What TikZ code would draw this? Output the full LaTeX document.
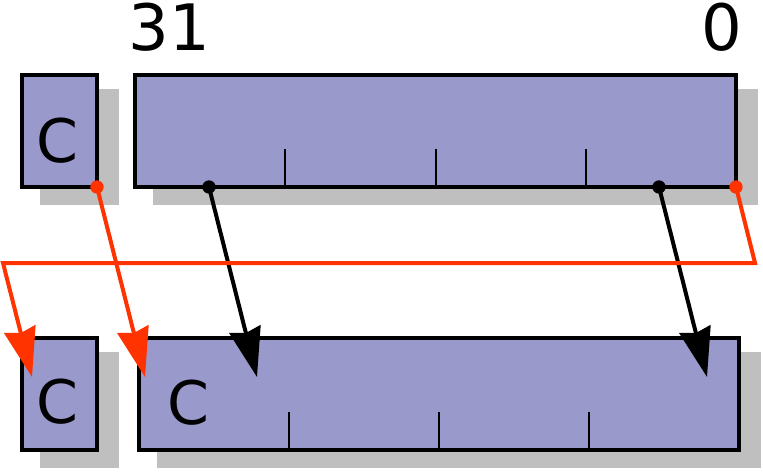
\documentclass[tikz,border=0pt]{standalone}
\usepackage{fontspec}
\setmainfont{DejaVu Sans}
\usetikzlibrary{arrows.meta,calc,backgrounds}
\definecolor{boxfill}{HTML}{9999CC}
\definecolor{shadowc}{HTML}{BFBFBF}
\definecolor{redc}{HTML}{FF3300}
\begin{document}
\begin{tikzpicture}[x=0.75pt,y=-0.75pt,
  regbox/.style={draw=black, line width=3.2pt, fill=boxfill, outer sep=0pt, inner sep=0pt},
  shadowbox/.style={fill=shadowc},
  tickline/.style={line width=1.5pt},
  conn/.style={line width=3pt, -{Stealth[length=37pt,width=24pt,inset=3pt]}},
  blackconn/.style={conn, draw=black},
  redconn/.style={conn, draw=redc},
  bigtxt/.style={inner sep=0pt, font=\fontsize{48}{48}\selectfont},
  ctxt/.style={inner sep=0pt, font=\fontsize{45}{45}\selectfont},
  dotb/.style={circle, fill=black, inner sep=0pt, minimum size=10pt},
  dotr/.style={circle, fill=redc, inner sep=0pt, minimum size=10pt}]
\useasboundingbox (0,0) rectangle (763,471);

% registers
\node[regbox, minimum width=56.25pt, minimum height=84pt] (cTop) at (59.5,131) {};
\node[regbox, minimum width=450.75pt, minimum height=84pt] (rTop) at (435.5,131) {};
\node[regbox, minimum width=56.25pt, minimum height=84pt] (cBot) at (59.5,394) {};
\node[regbox, minimum width=450pt, minimum height=84pt] (rBot) at (439,394) {};

% shadows
\begin{scope}[on background layer]
  \foreach \n in {cTop,rTop,cBot,rBot}
    \fill[shadowbox] ($(\n.north west)+(18,14)$) rectangle ($(\n.south east)+(22,18)$);
\end{scope}

% ticks
\foreach \f in {0.25,0.5,0.75}{
  \draw[tickline] ($(rTop.south west)!\f!(rTop.south east)$) -- ++(0,-38);
  \draw[tickline] ($(rBot.south west)!\f!(rBot.south east)$) -- ++(0,-38);
}

% labels
\node[bigtxt, anchor=base] (n31) at (169.5,50) {31};
\node[bigtxt, anchor=base] (n0) at (721.5,50) {0};
\node[ctxt, anchor=base] (c1) at (57,162) {C};
\node[ctxt, anchor=base] (c2) at (57.5,423) {C};
\node[ctxt, anchor=base] (c3) at (188,424) {C};

% connector points
\coordinate (pR1) at (cTop.south east);
\coordinate (pR2) at (rTop.south east);
\coordinate (pB1) at ($(rTop.south west)+(74,0)$);
\coordinate (pB2) at ($(rTop.south east)+(-77,0)$);
\coordinate (tB1) at ($(rBot.north west)+(118,39)$);
\coordinate (tB2) at ($(rBot.north west)+(568,39)$);
\coordinate (tR1) at ($(rBot.north west)+(6,39)$);
\coordinate (tR2) at ($(cBot.north west)+(10,39)$);
\coordinate (kR) at (755,263);
\coordinate (kL) at (3,263);

% connectors
\draw[blackconn] (pB1) -- (tB1);
\draw[blackconn] (pB2) -- (tB2);
\draw[redconn] (pR1) -- (tR1);
\draw[redconn] (pR2) -- (kR) -- (kL) -- (tR2);

% dots
\node[dotb] (dB1) at (pB1) {};
\node[dotb] (dB2) at (pB2) {};
\node[dotr] (dR1) at (pR1) {};
\node[dotr] (dR2) at (pR2) {};
\end{tikzpicture}
\end{document}
